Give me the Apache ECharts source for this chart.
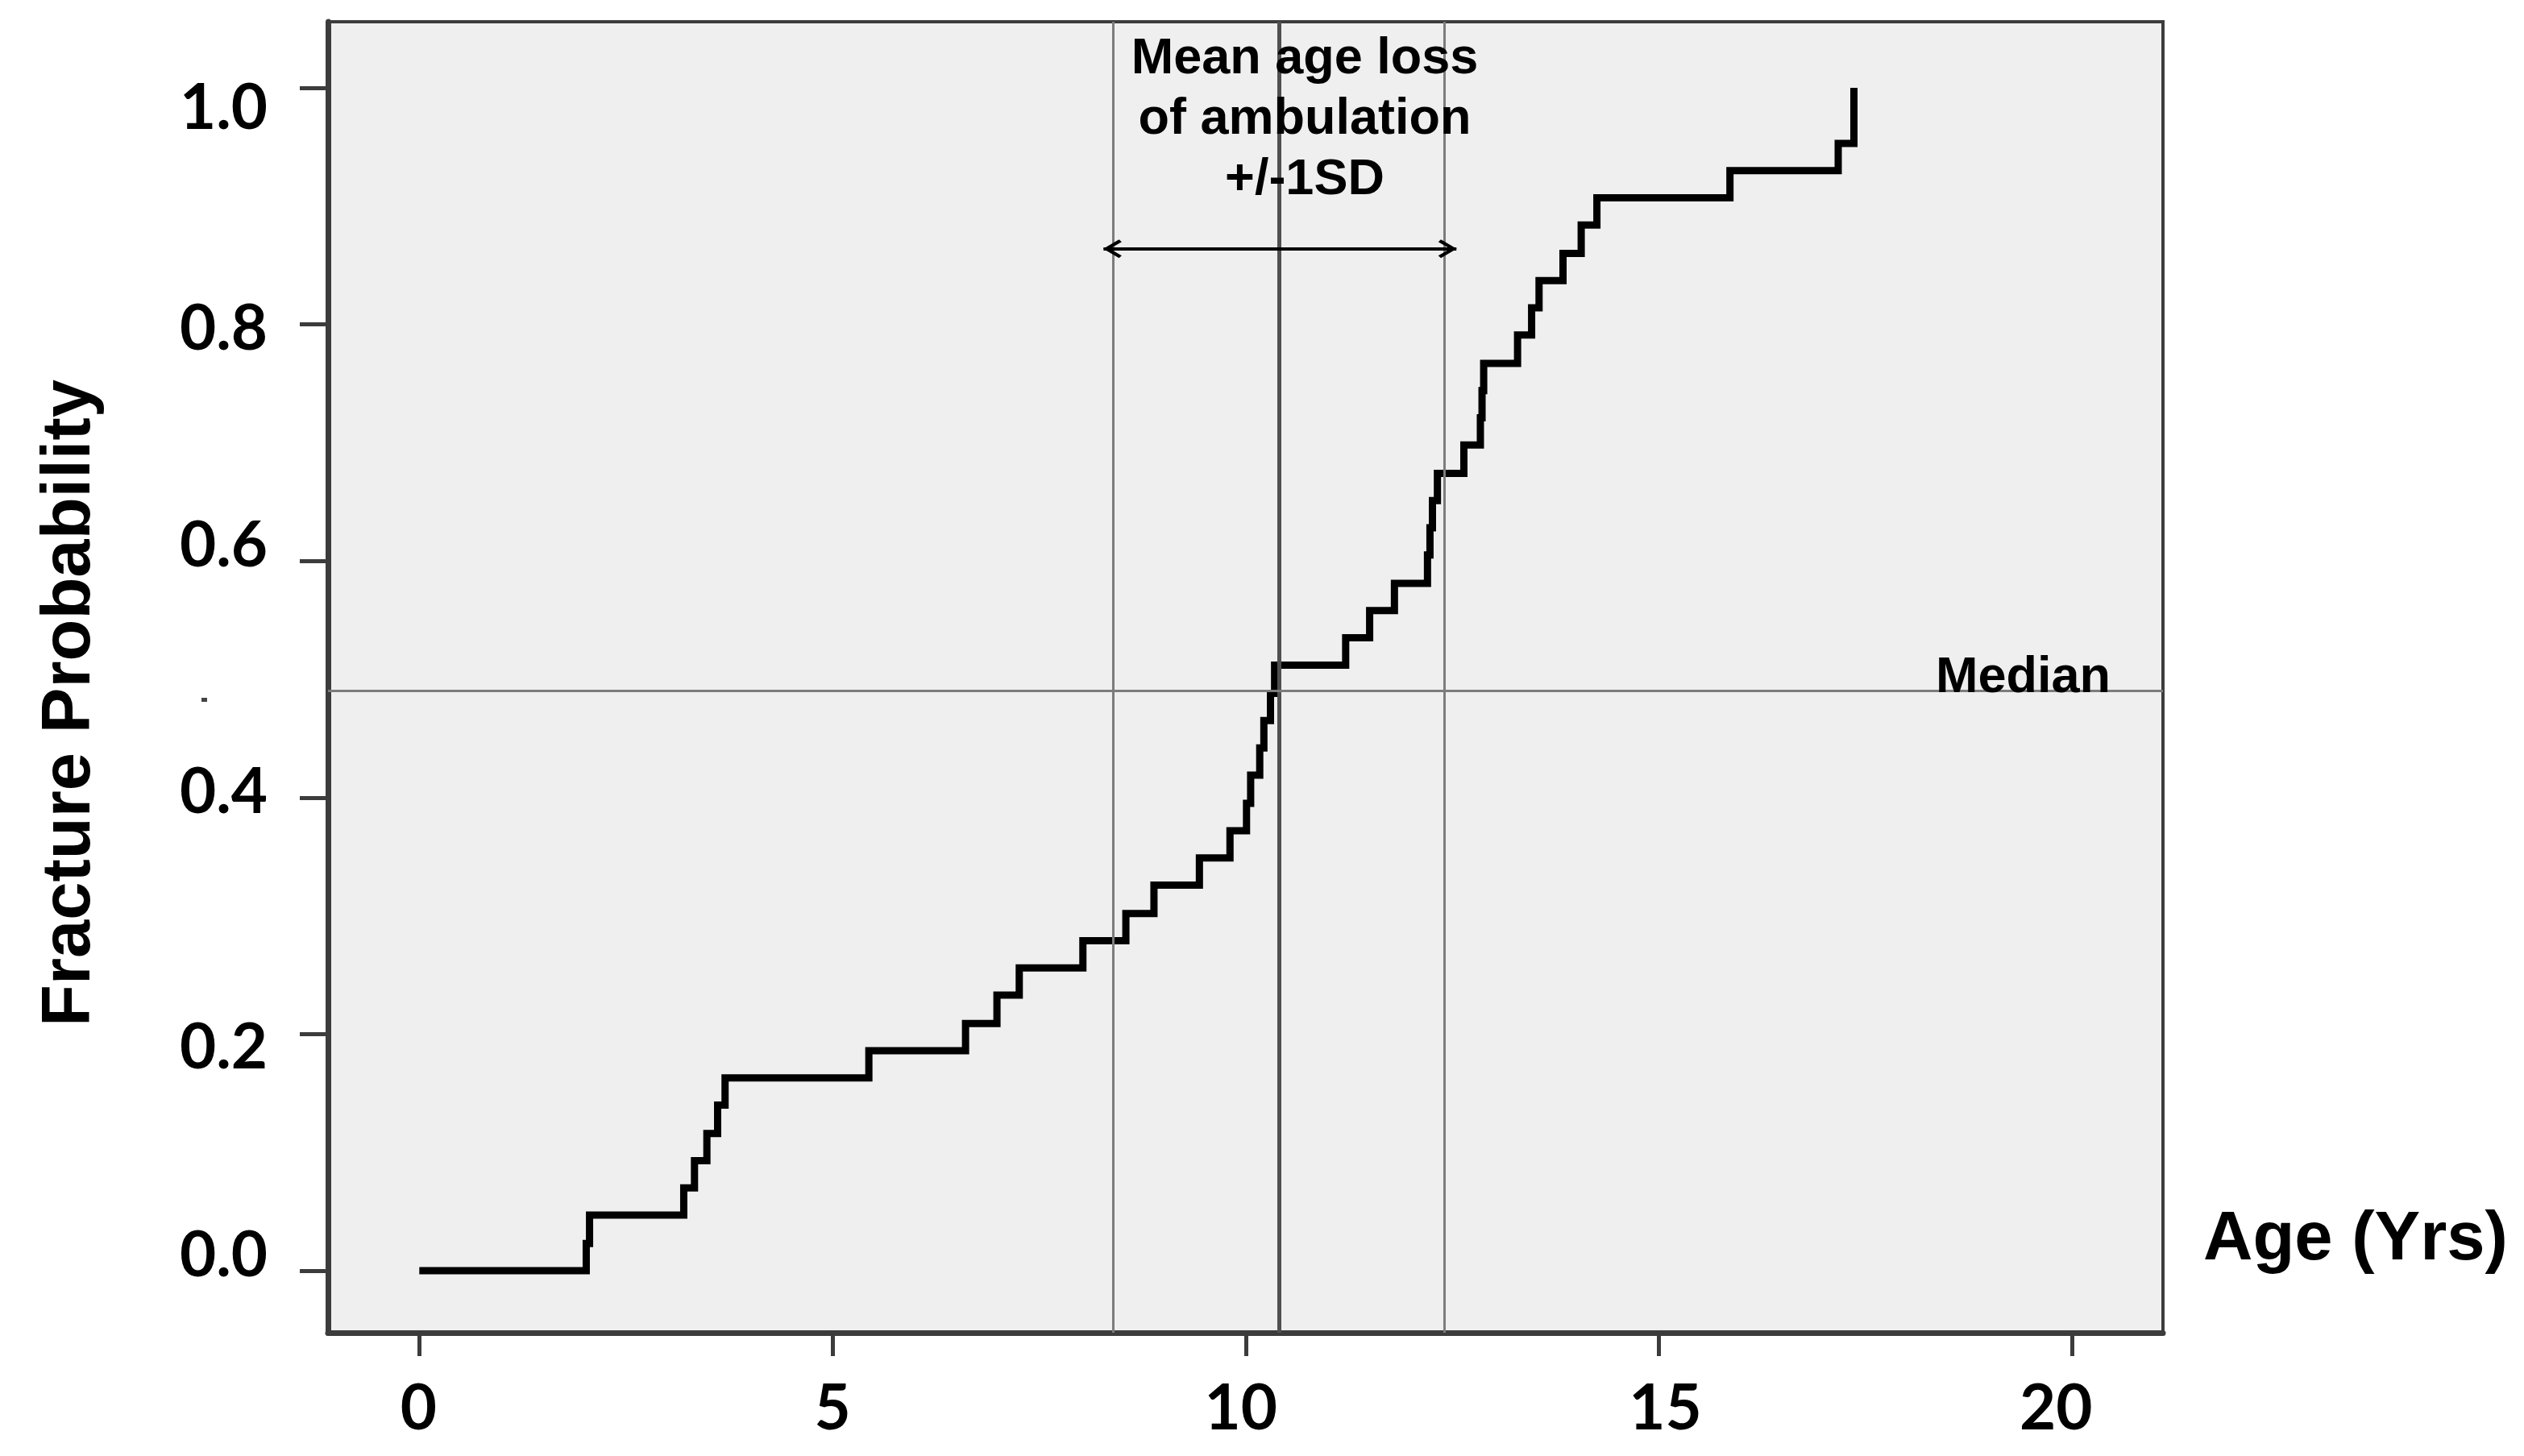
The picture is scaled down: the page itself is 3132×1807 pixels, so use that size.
<!DOCTYPE html>
<html>
<head>
<meta charset="utf-8">
<script src="https://cdn.jsdelivr.net/npm/echarts@6/dist/echarts.min.js"></script>
<style>
  html, body { margin: 0; padding: 0; background: #ffffff; }
  #chart { width: 3132px; height: 1807px; }
</style>
</head>
<body>
<div id="chart"></div>
<script>
// ---- data ----
const ages = [0, 2.02, 2.06, 3.20, 3.33, 3.48, 3.61, 3.70, 5.44, 6.61, 6.99, 7.26, 8.03, 8.55, 8.89, 9.44, 9.81, 10.01, 10.06, 10.17, 10.22, 10.30, 10.35, 11.21, 11.50, 11.80, 12.20, 12.23, 12.26, 12.32, 12.64, 12.84, 12.86, 12.88, 13.29, 13.46, 13.55, 13.84, 14.06, 14.25, 15.86, 17.17, 17.36];
const probs = [0, 0.023, 0.047, 0.070, 0.093, 0.116, 0.140, 0.163, 0.186, 0.209, 0.233, 0.256, 0.279, 0.302, 0.326, 0.349, 0.372, 0.395, 0.419, 0.442, 0.465, 0.488, 0.512, 0.535, 0.558, 0.581, 0.605, 0.628, 0.651, 0.674, 0.698, 0.721, 0.744, 0.767, 0.791, 0.814, 0.837, 0.860, 0.884, 0.907, 0.930, 0.953, 1.0];
const xTicks = [0, 5, 10, 15, 20];
const yTicks = [0, 0.2, 0.4, 0.6, 0.8, 1.0];
const meanAge = 10.4;
const sdBounds = [8.4, 12.4];
const medianProb = 0.488;
const arrowAges = [8.28, 12.55];
const arrowProb = 0.864;
const annotationText = 'Mean age loss\nof ambulation\n+/-1SD';

// ---- styling (label nudges copy the hand-placed labels of the original) ----
const frame = '#3c3c3c';
const chevron = 'path://M11.5,0 L23,18 L20,21 L11.5,7.5 L3,21 L0,18 Z';
const tickFont = { fontFamily: 'Lato', fontWeight: 'bold', fontSize: 78, color: '#000' };
const yLabelShift = { '0.0': -18, '0.2': 17, '0.4': -6, '0.6': -18, '0.8': 6, '1.0': 26 };   // px, + = down
const xLabelShift = { '0': -1, '5': 0, '10': -6, '15': 8, '20': -20 };                      // px, + = right

function richKey(prefix, s) { return prefix + s.replace(/[^0-9]/g, ''); }
const yRich = {}, xRich = {};
Object.keys(yLabelShift).forEach(k => {
  const d = yLabelShift[k];
  yRich[richKey('y', k)] = Object.assign({ padding: d >= 0 ? [2 * d, 0, 0, 0] : [0, 0, -2 * d, 0] }, tickFont);
});
Object.keys(xLabelShift).forEach(k => {
  const d = xLabelShift[k];
  xRich[richKey('x', k)] = Object.assign({ padding: d >= 0 ? [0, 0, 0, 2 * d] : [0, -2 * d, 0, 0] }, tickFont);
});

// ---- chart ----
const chart = echarts.init(document.getElementById('chart'), null, { renderer: 'canvas' });

const option = {
  animation: false,
  backgroundColor: '#ffffff',
  grid: {
    left: 407, top: 27, right: 448, bottom: 153,
    show: true, backgroundColor: '#efefef', borderColor: frame, borderWidth: 4,
    containLabel: false
  },
  xAxis: {
    type: 'value', min: -1.105, max: 21.1,
    name: 'Age (Yrs)', nameLocation: 'end', nameGap: 50,
    nameTextStyle: { fontFamily: 'Liberation Sans', fontWeight: 'bold', fontSize: 85, color: '#000',
      align: 'left', verticalAlign: 'bottom', lineHeight: 85, padding: [0, 0, 72, 0] },
    axisLine: { show: true, onZero: false, lineStyle: { color: frame, width: 7 } },
    axisTick: { show: true, inside: false, length: 29, lineStyle: { color: frame, width: 5 }, customValues: xTicks },
    axisLabel: Object.assign({
      margin: 95, verticalAlign: 'middle', customValues: xTicks, rich: xRich,
      formatter: v => { const s = String(v); return '{' + richKey('x', s) + '|' + s + '}'; }
    }, tickFont),
    splitLine: { show: false }
  },
  yAxis: {
    type: 'value', min: -0.0525, max: 1.0559,
    name: 'Fracture Probability', nameLocation: 'middle', nameGap: 277,
    nameTextStyle: { fontFamily: 'Liberation Sans', fontWeight: 'bold', fontSize: 85, color: '#000',
      padding: [0, 64, 0, 0] },
    axisLine: { show: true, onZero: false, lineStyle: { color: frame, width: 7 } },
    axisTick: { show: true, inside: false, length: 35, lineStyle: { color: frame, width: 5 }, customValues: yTicks },
    axisLabel: Object.assign({
      margin: 75, customValues: yTicks, rich: yRich,
      formatter: v => { const s = v.toFixed(1); return '{' + richKey('y', s) + '|' + s + '}'; }
    }, tickFont),
    splitLine: { show: false }
  },
  series: [
    {
      name: 'reference lines', type: 'line', data: [], z: 1, silent: true,
      markLine: {
        silent: true, symbol: 'none', animation: false,
        label: { show: false },
        data: [
          { xAxis: sdBounds[0], lineStyle: { color: '#7c7c7c', width: 3, type: 'solid' } },
          { xAxis: meanAge, lineStyle: { color: '#505050', width: 5, type: 'solid' } },
          { xAxis: sdBounds[1], lineStyle: { color: '#7c7c7c', width: 3, type: 'solid' } },
          { yAxis: medianProb, lineStyle: { color: '#7c7c7c', width: 3, type: 'solid' } }
        ]
      }
    },
    {
      name: 'Fracture probability', type: 'line', step: 'end', z: 3,
      data: ages.map((a, i) => [a, probs[i]]),
      showSymbol: false, symbol: 'none',
      lineStyle: { color: '#000', width: 9, join: 'miter', cap: 'butt' }
    },
    {
      name: 'mean +/- SD arrow', type: 'line', data: [], z: 4, silent: true,
      markLine: {
        silent: true, animation: false,
        symbol: [chevron, chevron], symbolSize: 23, symbolOffset: [[0, 11], [0, 11]],
        label: { show: false },
        lineStyle: { color: '#000', width: 4, type: 'solid' },
        data: [[{ coord: [arrowAges[0], arrowProb] }, { coord: [arrowAges[1], arrowProb] }]]
      }
    }
  ],
  graphic: [
    {
      type: 'text', z: 10, silent: true,
      style: { text: annotationText, x: 1619, y: 36, textAlign: 'center', textVerticalAlign: 'top',
        font: 'bold 63px "Liberation Sans"', lineHeight: 75, fill: '#000' }
    },
    {
      type: 'text', z: 10, silent: true,
      style: { text: 'Median', x: 2619, y: 842, textAlign: 'right', textVerticalAlign: 'middle',
        font: 'bold 63px "Liberation Sans"', fill: '#000' }
    },
    {
      type: 'rect', z: 10, silent: true,
      shape: { x: 250, y: 866, width: 7, height: 5 },
      style: { fill: '#444' }
    }
  ]
};
chart.setOption(option);
</script>
</body>
</html>
